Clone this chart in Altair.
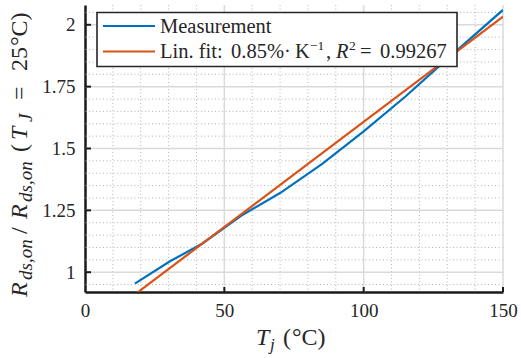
import altair as alt
import pandas as pd

# ---- data ----
temp_meas = [17.9, 30.5, 42, 56, 70, 85, 100, 115, 130, 150]
ratio_meas = [0.954, 1.044, 1.115, 1.228, 1.32, 1.437, 1.569, 1.71, 1.862, 2.06]
temp_fit = [17.9, 150]
ratio_fit = [0.910, 2.033]

x_major = [50, 100, 150]
x_minor = [10, 20, 30, 40, 60, 70, 80, 90, 110, 120, 130, 140]
y_major = [1.0, 1.25, 1.5, 1.75, 2.0]
y_minor = [0.95, 1.05, 1.1, 1.15, 1.2, 1.3, 1.35, 1.4, 1.45, 1.55, 1.6, 1.65,
           1.7, 1.8, 1.85, 1.9, 1.95, 2.05]
x_ticks = [0, 50, 100, 150]
y_ticks = [1.0, 1.25, 1.5, 1.75, 2.0]

series_names = ["Measurement", "Lin. fit"]
series_colors = ["#0072BD", "#D95319"]

# ---- layout ----
W, H = 418, 287
OX, OY = 85, 5  # page position of plot origin
FONT = "Liberation Serif"
TXT = "#262626"

X_DOM = [0, 150]
Y_DOM = [0.92, 2.08]
xs = alt.Scale(domain=X_DOM, nice=False, zero=False)
ys = alt.Scale(domain=Y_DOM, nice=False, zero=False)

AX = alt.Axis(values=x_ticks, title=None, grid=False, ticks=False, format="d",
              domainColor="#1a1a1a", domainWidth=2.5,
              labelFont=FONT, labelFontSize=19, labelColor=TXT,
              labelPadding=9, labelFlush=False)
AY = alt.Axis(values=y_ticks, title=None, grid=False, ticks=False, format=".2~f",
              domainColor="#1a1a1a", domainWidth=2.5,
              labelFont=FONT, labelFontSize=19, labelColor=TXT,
              labelPadding=10, labelFlush=False)

lines_df = pd.DataFrame(
    {"T": temp_meas + temp_fit,
     "R": ratio_meas + ratio_fit,
     "s": [series_names[0]] * len(temp_meas) + [series_names[1]] * len(temp_fit),
     "o": list(range(len(temp_meas))) + list(range(len(temp_fit)))}
)

data_lines = alt.Chart(lines_df).mark_line(strokeWidth=2.2, clip=True).encode(
    x=alt.X("T:Q", scale=xs, axis=AX),
    y=alt.Y("R:Q", scale=ys, axis=AY),
    color=alt.Color("s:N", scale=alt.Scale(domain=series_names, range=series_colors), legend=None),
    order="o:Q",
)

vminor = alt.Chart(pd.DataFrame({"T": x_minor})).mark_rule(
    color="#b3b3b3", strokeDash=[1, 2.5], strokeWidth=1
).encode(x=alt.X("T:Q", scale=xs, axis=AX))
hminor = alt.Chart(pd.DataFrame({"R": y_minor})).mark_rule(
    color="#b3b3b3", strokeDash=[1, 2.5], strokeWidth=1
).encode(y=alt.Y("R:Q", scale=ys, axis=AY))
vmajor = alt.Chart(pd.DataFrame({"T": x_major})).mark_rule(
    color="#dadada", strokeWidth=1.5
).encode(x=alt.X("T:Q", scale=xs, axis=AX))
hmajor = alt.Chart(pd.DataFrame({"R": y_major})).mark_rule(
    color="#dadada", strokeWidth=1.5
).encode(y=alt.Y("R:Q", scale=ys, axis=AY))

xtick_marks = alt.Chart(pd.DataFrame({"T": x_ticks[1:]})).mark_rule(
    color="#1a1a1a", strokeWidth=2
).encode(x=alt.X("T:Q", scale=xs, axis=AX), y=alt.value(H), y2=alt.value(H - 5))
ytick_marks = alt.Chart(pd.DataFrame({"R": y_ticks})).mark_rule(
    color="#1a1a1a", strokeWidth=2
).encode(y=alt.Y("R:Q", scale=ys, axis=AY), x=alt.value(0), x2=alt.value(6))

one = alt.Data(values=[{}])


def txt(s, px, py, size, italic=False, angle=0, align="left", baseline="alphabetic"):
    kw = dict(font=FONT, fontSize=size, color=TXT, align=align, baseline=baseline)
    if italic:
        kw["fontStyle"] = "italic"
    if angle:
        kw["angle"] = angle
    return alt.Chart(one).mark_text(**kw).encode(
        x=alt.value(px - OX), y=alt.value(py - OY), text=alt.value(s)
    )


# legend
leg_box = alt.Chart(one).mark_rect(fill="white", stroke="#262626", strokeWidth=1.6).encode(
    x=alt.value(97 - OX), x2=alt.value(457 - OX), y=alt.value(12.5 - OY), y2=alt.value(66.5 - OY)
)
leg_l1 = alt.Chart(one).mark_rule(color=series_colors[0], strokeWidth=2.2).encode(
    x=alt.value(103 - OX), x2=alt.value(155 - OX), y=alt.value(26 - OY)
)
leg_l2 = alt.Chart(one).mark_rule(color=series_colors[1], strokeWidth=2.2).encode(
    x=alt.value(103 - OX), x2=alt.value(155 - OX), y=alt.value(51.5 - OY)
)
LB1, LB2 = 32.5, 58
LF = 20.5
legend_parts = [
    txt("Measurement", 160, LB1, LF),
    txt("Lin. fit:", 160, LB2, LF),
    txt("0.85%·", 231, LB2, LF),
    txt("K", 295, LB2, LF),
    txt("−1", 310, LB2 - 8, 13.5),
    txt(",", 326, LB2, LF),
    txt("R", 336, LB2, LF, italic=True),
    txt("2", 349, LB2 - 8, 13.5),
    txt("=", 360, LB2, LF),
    txt("0.99267", 380, LB2, LF),
]

# x title
x_title = [
    txt("T", 256, 345, 24, italic=True),
    txt("j", 270, 350, 17, italic=True),
    txt("(", 283, 345, 24),
    txt("°C)", 292, 345, 24),
]

# y title (rotated)
BX, SX = 27, 32
MF, SF = 24, 19
y_title = [
    txt("R", BX, 297, MF, italic=True, angle=270),
    txt("ds,on", SX, 280, SF, italic=True, angle=270),
    txt("/", BX, 234, MF, angle=270),
    txt("R", BX, 219, MF, italic=True, angle=270),
    txt("ds,on", SX, 202, SF, italic=True, angle=270),
    txt("(", BX, 152, MF, angle=270),
    txt("T", BX, 140, MF, italic=True, angle=270),
    txt("J", SX, 122, SF, italic=True, angle=270),
    txt("=", BX, 100, MF, angle=270),
    txt("25", BX, 71, MF, angle=270),
    txt("°C)", BX, 46, MF, angle=270),
]

chart = alt.layer(
    vminor, hminor, vmajor, hmajor, data_lines, xtick_marks, ytick_marks,
    leg_box, leg_l1, leg_l2, *legend_parts, *x_title, *y_title
).properties(
    width=W, height=H, autosize="none",
    padding={"left": OX, "top": OY, "right": 521 - OX - W, "bottom": 358 - OY - H},
).configure(background="white").configure_view(stroke=None)

chart.save("out.html", embed_options={"renderer": "svg", "actions": False})
